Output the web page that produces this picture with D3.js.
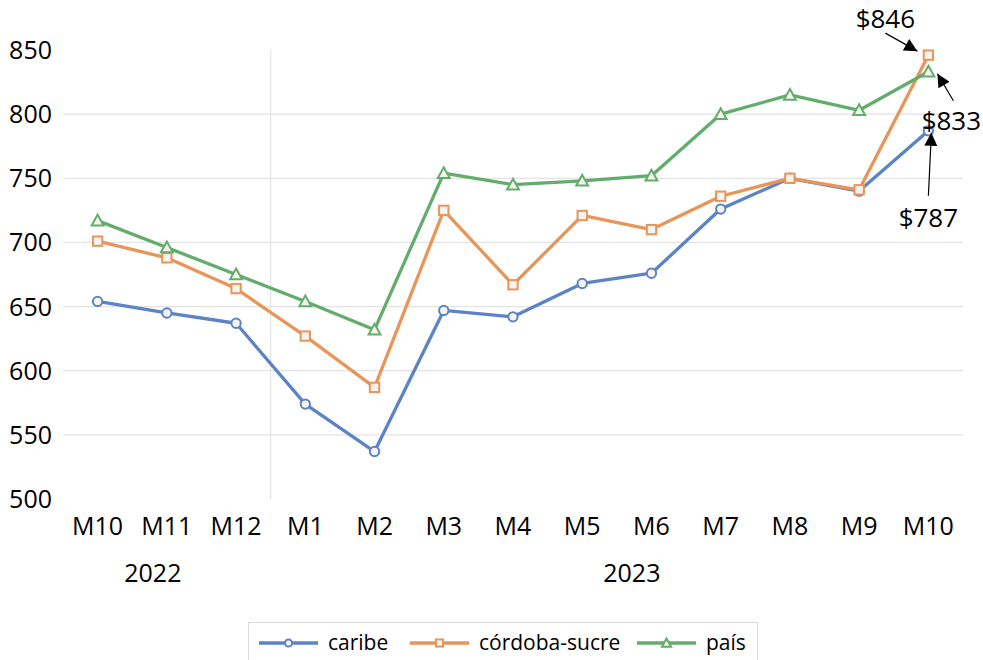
<!DOCTYPE html>
<html>
<head>
<meta charset="utf-8">
<script src="https://cdn.jsdelivr.net/npm/d3@7"></script>
<style>
  body { margin: 0; background: #fff; }
  text { font-family: "Open Sans", sans-serif; fill: #000; }
</style>
</head>
<body>
<div id="chart"></div>
<script>
// Categories (months) and the year they belong to
const months = ["M10", "M11", "M12", "M1", "M2", "M3", "M4", "M5", "M6", "M7", "M8", "M9", "M10"];
const years = [
  { label: "2022", from: 0, to: 2 },
  { label: "2023", from: 3, to: 12 },
];

// Series values
const caribe = [654, 645, 637, 574, 537, 647, 642, 668, 676, 726, 750, 740, 787];
const cordobaSucre = [701, 688, 664, 627, 587, 725, 667, 721, 710, 736, 750, 741, 846];
const pais = [717, 696, 675, 654, 632, 754, 745, 748, 752, 800, 815, 803, 833];

const yTicks = [500, 550, 600, 650, 700, 750, 800, 850];

const series = [
  { name: "caribe", values: caribe, color: "#5b83c6", marker: "circle" },
  { name: "córdoba-sucre", values: cordobaSucre, color: "#e8955a", marker: "square" },
  { name: "país", values: pais, color: "#62ad6c", marker: "triangle" },
];

// Value labels on the last point
const callouts = [
  { series: 1, text: "$846", tip: [-11, -4], tail: [-43, -22], label: [-43, -27] },
  { series: 2, text: "$833", tip: [9, 2], tail: [25, 29], label: [23, 58] },
  { series: 0, text: "$787", tip: [3, 2], tail: [0, 65], label: [0, 96] },
];

const width = 983;
const height = 660;

const svg = d3.select("#chart")
  .append("svg")
  .attr("width", width)
  .attr("height", height);

const x = d3.scalePoint()
  .domain(d3.range(months.length))
  .range([63, 963])
  .padding(0.5);

const y = d3.scaleLinear()
  .domain([500, 850])
  .range([499, 50]);

// Horizontal gridlines (not at the ends)
svg.append("g")
  .selectAll("line")
  .data(yTicks.filter((t) => t > 500 && t < 850))
  .join("line")
  .attr("x1", 63)
  .attr("x2", 963)
  .attr("y1", (d) => y(d))
  .attr("y2", (d) => y(d))
  .attr("stroke", "#e3e3e3")
  .attr("stroke-width", 1.2);

// Separator between the years
const step = x.step();
svg.append("line")
  .attr("x1", x(years[1].from) - step / 2)
  .attr("x2", x(years[1].from) - step / 2)
  .attr("y1", y(850))
  .attr("y2", y(500))
  .attr("stroke", "#e3e3e3")
  .attr("stroke-width", 1.2);

// Y axis labels
svg.append("g")
  .selectAll("text")
  .data(yTicks)
  .join("text")
  .attr("x", 52)
  .attr("y", (d) => y(d))
  .attr("dy", "0.36em")
  .attr("text-anchor", "end")
  .style("font-size", "25px")
  .text((d) => d);

// X axis labels
svg.append("g")
  .selectAll("text")
  .data(months)
  .join("text")
  .attr("x", (d, i) => x(i))
  .attr("y", 535)
  .attr("text-anchor", "middle")
  .style("font-size", "25px")
  .text((d) => d);

// Year labels
svg.append("g")
  .selectAll("text")
  .data(years)
  .join("text")
  .attr("x", (d, i) => (x(d.from) + x(d.to)) / 2 + (i === 0 ? -14 : 15))
  .attr("y", 582)
  .attr("text-anchor", "middle")
  .style("font-size", "25px")
  .text((d) => d.label);

const line = d3.line()
  .x((d, i) => x(i))
  .y((d) => y(d));

function drawMarker(g, type, color, size) {
  if (type === "circle") {
    g.append("circle").attr("r", size * 0.55);
  } else if (type === "square") {
    g.append("rect")
      .attr("x", -size * 0.55).attr("y", -size * 0.55)
      .attr("width", size * 1.1).attr("height", size * 1.1);
  } else {
    const t = size * 0.7;
    g.append("path").attr("d", `M0,${-t} L${t},${t * 0.8} L${-t},${t * 0.8} Z`);
  }
  g.selectAll("*")
    .attr("fill", "#f6f2ee")
    .attr("stroke", color)
    .attr("stroke-width", 2);
}

series.forEach((s) => {
  svg.append("path")
    .datum(s.values)
    .attr("fill", "none")
    .attr("stroke", s.color)
    .attr("stroke-width", 3.3)
    .attr("stroke-linejoin", "round")
    .attr("d", line);

  svg.append("g")
    .selectAll("g")
    .data(s.values)
    .join("g")
    .attr("transform", (d, i) => `translate(${x(i)},${y(d)})`)
    .each(function () {
      drawMarker(d3.select(this), s.marker, s.color, 8.5);
    });
});

// Arrow head
svg.append("defs")
  .append("marker")
  .attr("id", "arrow")
  .attr("viewBox", "0 0 10 10")
  .attr("refX", 10)
  .attr("refY", 5)
  .attr("markerWidth", 15)
  .attr("markerHeight", 13)
  .attr("markerUnits", "userSpaceOnUse")
  .attr("orient", "auto")
  .append("path")
  .attr("d", "M0,0 L10,5 L0,10 Z")
  .attr("fill", "#000");

callouts.forEach((c) => {
  const last = months.length - 1;
  const px = x(last);
  const py = y(series[c.series].values[last]);
  svg.append("line")
    .attr("x1", px + c.tail[0])
    .attr("y1", py + c.tail[1])
    .attr("x2", px + c.tip[0])
    .attr("y2", py + c.tip[1])
    .attr("stroke", "#000")
    .attr("stroke-width", 1.2)
    .attr("marker-end", "url(#arrow)");
  svg.append("text")
    .attr("x", px + c.label[0])
    .attr("y", py + c.label[1])
    .attr("text-anchor", "middle")
    .style("font-size", "26px")
    .text(c.text);
});

// Legend
const legend = svg.append("g");
legend.append("rect")
  .attr("x", 248.5)
  .attr("y", 622.5)
  .attr("width", 509)
  .attr("height", 45)
  .attr("fill", "#fff")
  .attr("stroke", "#d9d9d9");

const legendX = [259, 410, 637];
series.forEach((s, i) => {
  const g = legend.append("g").attr("transform", `translate(${legendX[i]},643)`);
  g.append("line")
    .attr("x1", 0).attr("x2", 59)
    .attr("stroke", s.color)
    .attr("stroke-width", 3.3);
  const m = g.append("g").attr("transform", "translate(29.5,0)");
  drawMarker(m, s.marker, s.color, 6.5);
  g.append("text")
    .attr("x", 69)
    .attr("y", 0)
    .attr("dy", "0.35em")
    .style("font-size", "21px")
    .text(s.name);
});
</script>
</body>
</html>
